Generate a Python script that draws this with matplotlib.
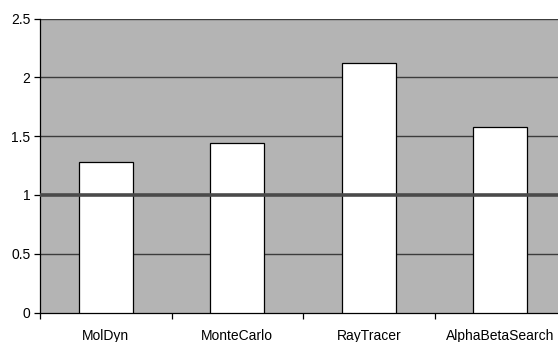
import matplotlib.pyplot as plt
import numpy as np

plt.rcParams["font.family"] = ["Liberation Sans", "DejaVu Sans"]

# speedup per benchmark
benchmarks = ["MolDyn", "MonteCarlo", "RayTracer", "AlphaBetaSearch"]
speedup = [1.28, 1.44, 2.12, 1.58]
y_ticks = [0, 0.5, 1, 1.5, 2, 2.5]
y_labels = ["0", "0.5", "1", "1.5", "2", "2.5"]
baseline = 1.0

fig = plt.figure(figsize=(5.58, 3.42), dpi=100)
# plot area runs a bit past the right edge of the canvas
ax = fig.add_axes([40 / 558, 29.5 / 342, 526 / 558, 294 / 342])
ax.set_facecolor("#b4b4b4")

x = np.arange(len(benchmarks))
ax.bar(x, speedup, width=0.41, color="white", edgecolor="black",
       linewidth=0.9, zorder=3)

for v in y_ticks:
    if v in (0, baseline):
        continue
    ax.axhline(v, color="#3c3c3c", linewidth=1.0, zorder=1)
ax.axhline(baseline, color="#4a4a4a", linewidth=2.6, zorder=4)

ax.set_xlim(-0.5, len(benchmarks) - 0.5)
ax.set_ylim(0, 2.5)
ax.set_yticks(y_ticks)
ax.set_yticklabels(y_labels)
ax.set_xticks(x)
ax.set_xticklabels(benchmarks)
ax.set_xticks(np.arange(len(benchmarks) + 1) - 0.5, minor=True)
ax.tick_params(axis="x", which="major", length=0, pad=12, labelsize=10)
ax.tick_params(axis="x", which="minor", length=4, width=0.9, direction="out")
ax.tick_params(axis="y", length=4, width=0.9, direction="out", pad=3,
               labelsize=10)

for side in ("top", "right"):
    ax.spines[side].set_visible(False)
ax.spines["left"].set_linewidth(0.9)
ax.spines["bottom"].set_linewidth(0.9)

fig.savefig("out.png", dpi=100)
